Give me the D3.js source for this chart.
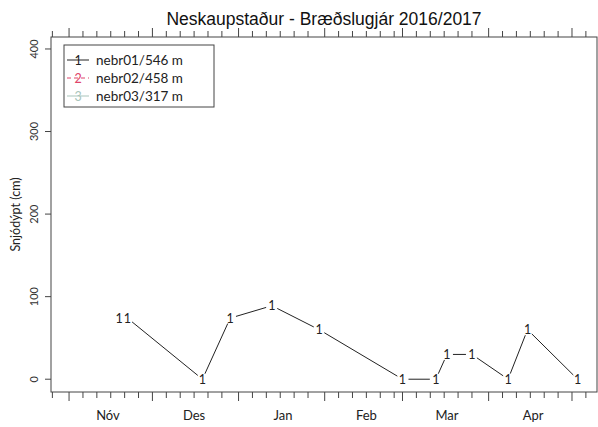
<!DOCTYPE html>
<head>
  <meta charset="utf-8">
  <script src="https://d3js.org/d3.v7.min.js"></script>
  <style>
    body { margin: 0; background: #fff; }
    text { font-family: Lato, "Open Sans", sans-serif; }
  </style>
</head>
<body>
  <svg width="598" height="427"></svg>
  <script>
    // stations (legend) and the only series with readings
    const stations = ['nebr01/546 m', 'nebr02/458 m', 'nebr03/317 m'];
    const stationColors = ['#222', '#e0456a', '#a9c5bb'];
    const stationDash = [null, '4,3', null];

    const dates1 = ['2016-11-19', '2016-11-22', '2016-12-19', '2016-12-29', '2017-01-13',
      '2017-01-30', '2017-03-01', '2017-03-13', '2017-03-17', '2017-03-26',
      '2017-04-08', '2017-04-15', '2017-05-03'];
    const depth1 = [74, 74, 0, 74, 89, 60, 0, 0, 30, 30, 0, 60, 0];

    const monthLabels = ['Nóv', 'Des', 'Jan', 'Feb', 'Mar', 'Apr'];
    const monthLabelDates = ['2016-11-15', '2016-12-16', '2017-01-17', '2017-02-16', '2017-03-17', '2017-04-17'];
    const yTicks = [0, 100, 200, 300, 400];

    const parse = d3.timeParse('%Y-%m-%d');
    const svg = d3.select('svg');
    const pl = 51, pr = 597, pt = 37, pb = 392;

    const x = d3.scaleTime()
      .domain([new Date(2016, 9, 25, 12), new Date(2017, 4, 10)])
      .range([pl, pr]);
    const y = d3.scaleLinear().domain([-15.5, 414.5]).range([pb, pt]);

    // box
    svg.append('rect')
      .attr('x', pl).attr('y', pt)
      .attr('width', pr - pl).attr('height', pb - pt)
      .attr('fill', 'none').attr('stroke', '#444');

    // ticks every 5 days, longer on the 1st
    const tickDates = d3.timeDay.range(x.domain()[0], x.domain()[1])
      .filter(d => [1, 6, 11, 16, 21, 26].includes(d.getDate()));
    const tickLen = d => d.getDate() === 1 ? 9 : 6;
    svg.append('g').selectAll('line').data(tickDates).join('line')
      .attr('x1', d => x(d)).attr('x2', d => x(d))
      .attr('y1', pb).attr('y2', d => pb + tickLen(d))
      .attr('stroke', '#444');
    svg.append('g').selectAll('line').data(tickDates).join('line')
      .attr('x1', d => x(d)).attr('x2', d => x(d))
      .attr('y1', pt).attr('y2', d => pt - tickLen(d))
      .attr('stroke', '#444');

    svg.append('g').selectAll('text').data(monthLabels).join('text')
      .attr('x', (d, i) => x(parse(monthLabelDates[i])))
      .attr('y', 420)
      .attr('text-anchor', 'middle')
      .attr('font-size', 13)
      .attr('fill', '#222')
      .text(d => d);

    // y axis
    const yAxis = svg.append('g');
    yAxis.selectAll('line').data(yTicks).join('line')
      .attr('x1', pl - 6).attr('x2', pl)
      .attr('y1', d => y(d)).attr('y2', d => y(d))
      .attr('stroke', '#444');
    yAxis.selectAll('text').data(yTicks).join('text')
      .attr('transform', d => `translate(38,${y(d)}) rotate(-90)`)
      .attr('text-anchor', 'middle')
      .attr('font-size', 11)
      .attr('fill', '#333')
      .text(d => d);

    svg.append('text')
      .attr('transform', `translate(20,${(pt + pb) / 2}) rotate(-90)`)
      .attr('text-anchor', 'middle')
      .attr('font-size', 12.5)
      .attr('fill', '#222')
      .text('Snjódýpt (cm)');

    svg.append('text')
      .attr('x', (pl + pr) / 2).attr('y', 25)
      .attr('text-anchor', 'middle')
      .style('font-family', '"Liberation Sans", Arial, sans-serif')
      .attr('font-size', 17.5)
      .attr('fill', '#111')
      .text('Neskaupstaður - Bræðslugjár 2016/2017');

    // series 1, drawn like R type="b"
    const pts = dates1.map((d, i) => [x(parse(d)), y(depth1[i])]);
    const gap = 6;
    const segs = d3.pairs(pts).filter(([a, b]) => Math.hypot(b[0] - a[0], b[1] - a[1]) > 2 * gap + 1);
    svg.append('g').selectAll('line').data(segs).join('line')
      .each(function([a, b]) {
        const len = Math.hypot(b[0] - a[0], b[1] - a[1]);
        const ux = (b[0] - a[0]) / len, uy = (b[1] - a[1]) / len;
        d3.select(this)
          .attr('x1', a[0] + ux * gap).attr('y1', a[1] + uy * gap)
          .attr('x2', b[0] - ux * gap).attr('y2', b[1] - uy * gap);
      })
      .attr('stroke', stationColors[0]).attr('stroke-width', 1);
    svg.append('g').selectAll('text').data(pts).join('text')
      .attr('x', d => d[0]).attr('y', d => d[1] + 4.5)
      .attr('text-anchor', 'middle')
      .attr('font-size', 12.5)
      .attr('fill', stationColors[0])
      .text('1');

    // legend
    const lg = svg.append('g');
    lg.append('rect')
      .attr('x', 64).attr('y', 45).attr('width', 150).attr('height', 62)
      .attr('fill', '#fff').attr('stroke', '#444');
    const rows = lg.selectAll('g').data(stations).join('g')
      .attr('transform', (d, i) => `translate(0,${60 + i * 18})`);
    rows.append('line')
      .attr('x1', 67).attr('x2', 89).attr('y1', 0).attr('y2', 0)
      .attr('stroke', (d, i) => stationColors[i])
      .attr('stroke-dasharray', (d, i) => stationDash[i]);
    rows.append('text')
      .attr('x', 78).attr('y', 4.5)
      .attr('text-anchor', 'middle')
      .attr('font-size', 12.5)
      .attr('fill', (d, i) => stationColors[i])
      .text((d, i) => i + 1);
    rows.append('text')
      .attr('x', 96).attr('y', 5)
      .attr('font-size', 13.5)
      .attr('fill', '#222')
      .text(d => d);
  </script>
</body>
